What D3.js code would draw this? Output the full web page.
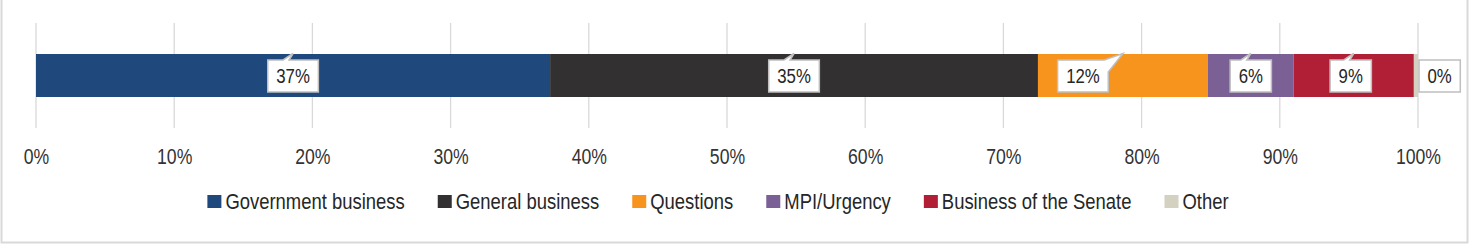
<!DOCTYPE html>
<html><head><meta charset="utf-8">
<script src="https://cdn.jsdelivr.net/npm/d3@7"></script>
<style>
html,body{margin:0;padding:0;background:#fff;}
svg{display:block;}
</style></head>
<body>
<svg id="chart" width="1470" height="245"></svg>
<script>
const categories = ["Government business","General business","Questions","MPI/Urgency","Business of the Senate","Other"];
const values = [37.2, 35.3, 12.3, 6.2, 8.7, 0.3];
const valueLabels = ["37%","35%","12%","6%","9%","0%"];
const colors = ["#1F497D","#323031","#F7941D","#7B6096","#B01F35","#D4D1C1"];
const tickValues = [0,10,20,30,40,50,60,70,80,90,100];

const FONT = "'Liberation Sans',Arial,sans-serif";
const SX = 0.82; // emulate a narrow face
const svg = d3.select("#chart");

// border
svg.append("rect").attr("x",1.5).attr("y",-10).attr("width",1466).attr("height",252.5)
  .attr("fill","none").attr("stroke","#d9d9d9").attr("stroke-width",2);

const x = d3.scaleLinear().domain([0,100]).range([36,1418]);
const y = d3.scaleBand().domain(["row"]).range([23,128]).paddingInner(0).paddingOuter(0.721);

// gridlines
svg.append("g").selectAll("line").data(tickValues).join("line")
  .attr("x1",d=>x(d)).attr("x2",d=>x(d)).attr("y1",23).attr("y2",128)
  .attr("stroke","#d9d9d9").attr("stroke-width",1.3);

// tick labels via axis
const axis = d3.axisBottom(x).tickValues(tickValues).tickFormat(d=>d+"%").tickSize(0).tickPadding(0);
const ag = svg.append("g").attr("transform","translate(0,148.5)").call(axis);
ag.select(".domain").remove();
ag.selectAll("text").attr("font-family",FONT).attr("font-size",21.5).attr("fill","#333")
  .attr("dy","0.71em").attr("transform",`scale(${SX},1)`);

// stacked bars
let cum = 0;
const segs = values.map((v,i)=>{const s={i,start:cum,end:cum+v}; cum+=v; return s;});
const bandY = y("row"), bandH = y.bandwidth();
svg.append("g").selectAll("rect").data(segs).join("rect")
  .attr("x",d=>x(d.start)).attr("width",d=>x(d.end)-x(d.start))
  .attr("y",bandY).attr("height",bandH).attr("fill",d=>colors[d.i]);

// callout labels
const labelShift = [0,0,-40,0,-3,0];
const lg = svg.append("g");
const texts = [];
segs.forEach(s=>{
  const cx = (x(s.start)+x(s.end))/2;
  const tg = lg.append("g");
  const t = tg.append("text").text(valueLabels[s.i]).attr("font-family",FONT).attr("font-size",20.5)
    .attr("fill","#262626").attr("text-anchor","middle").attr("dy","0.36em").attr("transform",`scale(${SX},1)`);
  const tw = t.node().getComputedTextLength()*SX;
  const bw = tw + 17, bh = 32;
  let bx = cx + labelShift[s.i] - bw/2;
  if (s.i === values.length-1) bx = x(s.end) + 1;
  const by = bandY + bandH/2 - bh/2 + 0.5;
  const tipX = cx, tipY = bandY - 0.5;
  let path;
  const r = bx+bw, b = by+bh;
  if (s.i === values.length-1) {
    path = `M${bx},${by}H${r}V${b}H${bx}Z`;
  } else if (tipX > r - 4) {
    path = `M${bx},${by}H${r-4}L${tipX},${tipY}L${r},${by+12}V${b}H${bx}Z`;
  } else {
    path = `M${bx},${by}H${tipX-10}L${tipX},${tipY}L${tipX-4},${by}H${r}V${b}H${bx}Z`;
  }
  lg.insert("path",":first-child").attr("d",path).attr("fill","#fff").attr("stroke","#bfbfbf").attr("stroke-width",1.5);
  tg.attr("transform",`translate(${bx+bw/2},${by+bh/2})`);
  texts.push(tg);
});
texts.forEach(g=>g.raise());

// legend
const leg = svg.append("g");
const items = categories.map((c,i)=>{
  const g = leg.append("g");
  g.append("rect").attr("width",14).attr("height",13).attr("y",-14).attr("fill",colors[i]);
  const t = g.append("text").text(c).attr("font-family",FONT).attr("font-size",22.5).attr("fill","#262626")
    .attr("transform",`translate(18,0) scale(${SX},1)`);
  return {g, w: 18 + t.node().getComputedTextLength()*SX};
});
const gap = 33;
const total = d3.sum(items,d=>d.w) + gap*(items.length-1);
let lx = 718 - total/2;
items.forEach(it=>{ it.g.attr("transform",`translate(${lx},209)`); lx += it.w + gap; });
</script>
</body></html>
